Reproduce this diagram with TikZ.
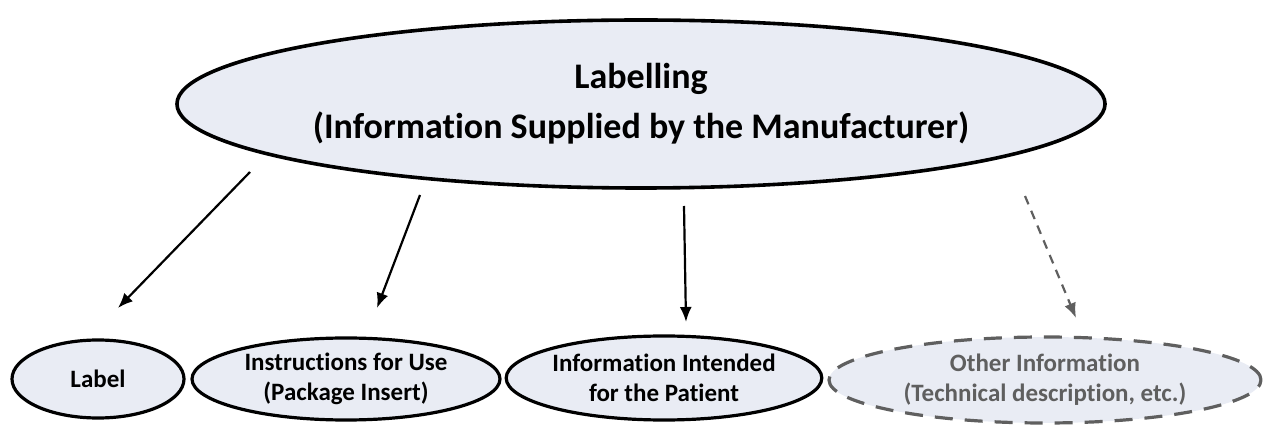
\documentclass[tikz,border=0pt]{standalone}
\usepackage{fontspec}
\setmainfont[RawFeature={-liga;-clig;-calt;-dlig}]{Carlito}
\usetikzlibrary{shapes.geometric,arrows.meta}
\definecolor{ovalfill}{RGB}{233,236,244}
\definecolor{othergray}{RGB}{95,95,95}
\tikzset{
    oval/.style={ellipse,draw,line width=3.2pt,fill=ovalfill,inner sep=0pt,
        align=center,font=\fontsize{25}{30}\selectfont\bfseries},
    otheroval/.style={oval,draw=othergray,text=othergray,
        dash pattern=on 18pt off 12pt},
    arr/.style={line width=2.2pt,-{Latex[length=15pt,width=12pt]}},
}
\begin{document}
\begin{tikzpicture}[x=1pt,y=-1pt]
    \useasboundingbox (0,0) rectangle (1270,430);
    %% top
    \node[oval,minimum width=916pt,minimum height=168pt,line width=3.6pt,
        font=\fontsize{36}{50}\selectfont\bfseries] (labelling) at (641,104)
        {Labelling\\(Information Supplied by the Manufacturer)};
    %% bottom row
    \node[oval,minimum width=172pt,minimum height=78pt] (label) at (98,379) {Label};
    \node[oval,minimum width=308pt,minimum height=82pt] (ifu) at (346,379)
        {Instructions for Use\\(Package Insert)};
    \node[oval,minimum width=312pt,minimum height=84pt] (patient) at (664,378)
        {Information Intended\\for the Patient};
    \node[otheroval,minimum width=432pt,minimum height=86pt] (other) at (1045,380)
        {Other Information\\(Technical description, etc.)};
    %% arrows
    \coordinate (s1) at (250,172);
    \coordinate (e1) at (118,308);
    \coordinate (s2) at (420,195);
    \coordinate (e2) at (377,308);
    \coordinate (s3) at (684,206);
    \coordinate (e3) at (686,322);
    \coordinate (s4) at (1025,196);
    \coordinate (e4) at (1076,318);
    \draw[arr] (s1) -- (e1);
    \draw[arr] (s2) -- (e2);
    \draw[arr] (s3) -- (e3);
    \draw[arr,othergray,dash pattern=on 9pt off 7pt] (s4) -- (e4);
\end{tikzpicture}
\end{document}
